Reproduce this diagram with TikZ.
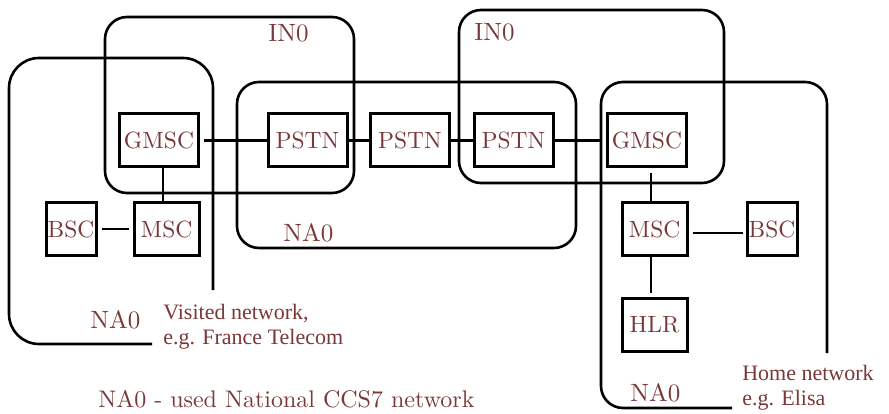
\documentclass[tikz,border=0pt]{standalone}
\usepackage{fontspec}
\usetikzlibrary{calc}
\newfontfamily\boxfont{lmroman10-regular.otf}
\newfontfamily\notefont{Liberation Serif}
\definecolor{labelred}{RGB}{122,56,56}
\begin{document}
\begin{tikzpicture}[x=1pt,y=-1pt,
  line width=2.6pt,
  netbox/.style={draw, line width=3pt, inner sep=0pt, minimum height=53pt,
    text=labelred, font=\boxfont\fontsize{23.5}{26}\selectfont},
  wide/.style={netbox, minimum width=79pt},
  narrow/.style={netbox, minimum width=65pt},
  tiny/.style={netbox, minimum width=50pt},
  region/.style={text=labelred, font=\boxfont\fontsize{25}{28}\selectfont, anchor=base west, inner sep=0pt},
  note/.style={text=labelred, font=\notefont\fontsize{22}{25}\selectfont, anchor=base west, inner sep=0pt, align=left},
  link/.style={line width=2.6pt}]
\useasboundingbox (0,0) rectangle (889,414);

% network areas
\draw[rounded corners=30pt] (152,344) -- (9,344) -- (9,58) -- (213,58) -- (213,290);
\draw[rounded corners=22pt] (105,17) rectangle (354,193);
\draw[rounded corners=22pt] (237,82) rectangle (576,248);
\draw[rounded corners=22pt] (459,10) rectangle (724,183);
\draw[rounded corners=22pt] (827,353) -- (827,82) -- (601,82) -- (601,408) -- (732,408);

% switching elements
\node[wide]   (gl) at (159,140.5) {GMSC};
\node[wide]   (p1) at (307.5,140.5) {PSTN};
\node[wide]   (p2) at (410,140.5) {PSTN};
\node[wide]   (p3) at (513.5,140.5) {PSTN};
\node[wide]   (gr) at (647,140.5) {GMSC};
\node[tiny]   (bl) at (71,229) {BSC};
\node[narrow] (ml) at (166.5,229) {MSC};
\node[narrow] (mr) at (654.5,229) {MSC};
\node[tiny]   (br) at (772,229) {BSC};
\node[narrow] (hl) at (654.5,325) {HLR};

% links
\draw[link, shorten <=4pt] (gl) -- (p1);
\draw[link] (p1) -- (p2);
\draw[link] (p2) -- (p3);
\draw[link, shorten >=4pt] (p3) -- (gr);
\draw[link, shorten <=4pt, shorten >=4pt] (bl) -- (ml);
\draw[link] ($(gl.south)+(4,0)$) -- ($(ml.north)+(-3.5,0)$);
\draw[link, shorten <=5pt] ($(gr.south)+(4,0)$) -- ($(mr.north)+(-3.5,0)$);
\draw[link, shorten >=4pt] ($(mr.south)+(-3.5,0)$) -- ($(hl.north)+(-3.5,0)$);
\draw[link, shorten <=4pt, shorten >=3pt] ($(mr.east)+(0,4)$) -- ($(br.west)+(0,4)$);

% labels (a multi-line note sits on the baseline of its last line)
\node[region] (in1) at (267,42) {IN0};
\node[region] (in2) at (473,41) {IN0};
\node[region] (na1) at (89,328) {NA0};
\node[region] (na2) at (282,242) {NA0};
\node[region] (na3) at (629,401) {NA0};
\node[note] (vis) at (162,344) {Visited network,\\e.g. France Telecom};
\node[note] (home) at (741,405) {Home network\\e.g. Elisa};
\node[region, font=\boxfont\fontsize{24}{26}\selectfont] (cap) at (97,407) {NA0 - used National CCS7 network};
\end{tikzpicture}
\end{document}
